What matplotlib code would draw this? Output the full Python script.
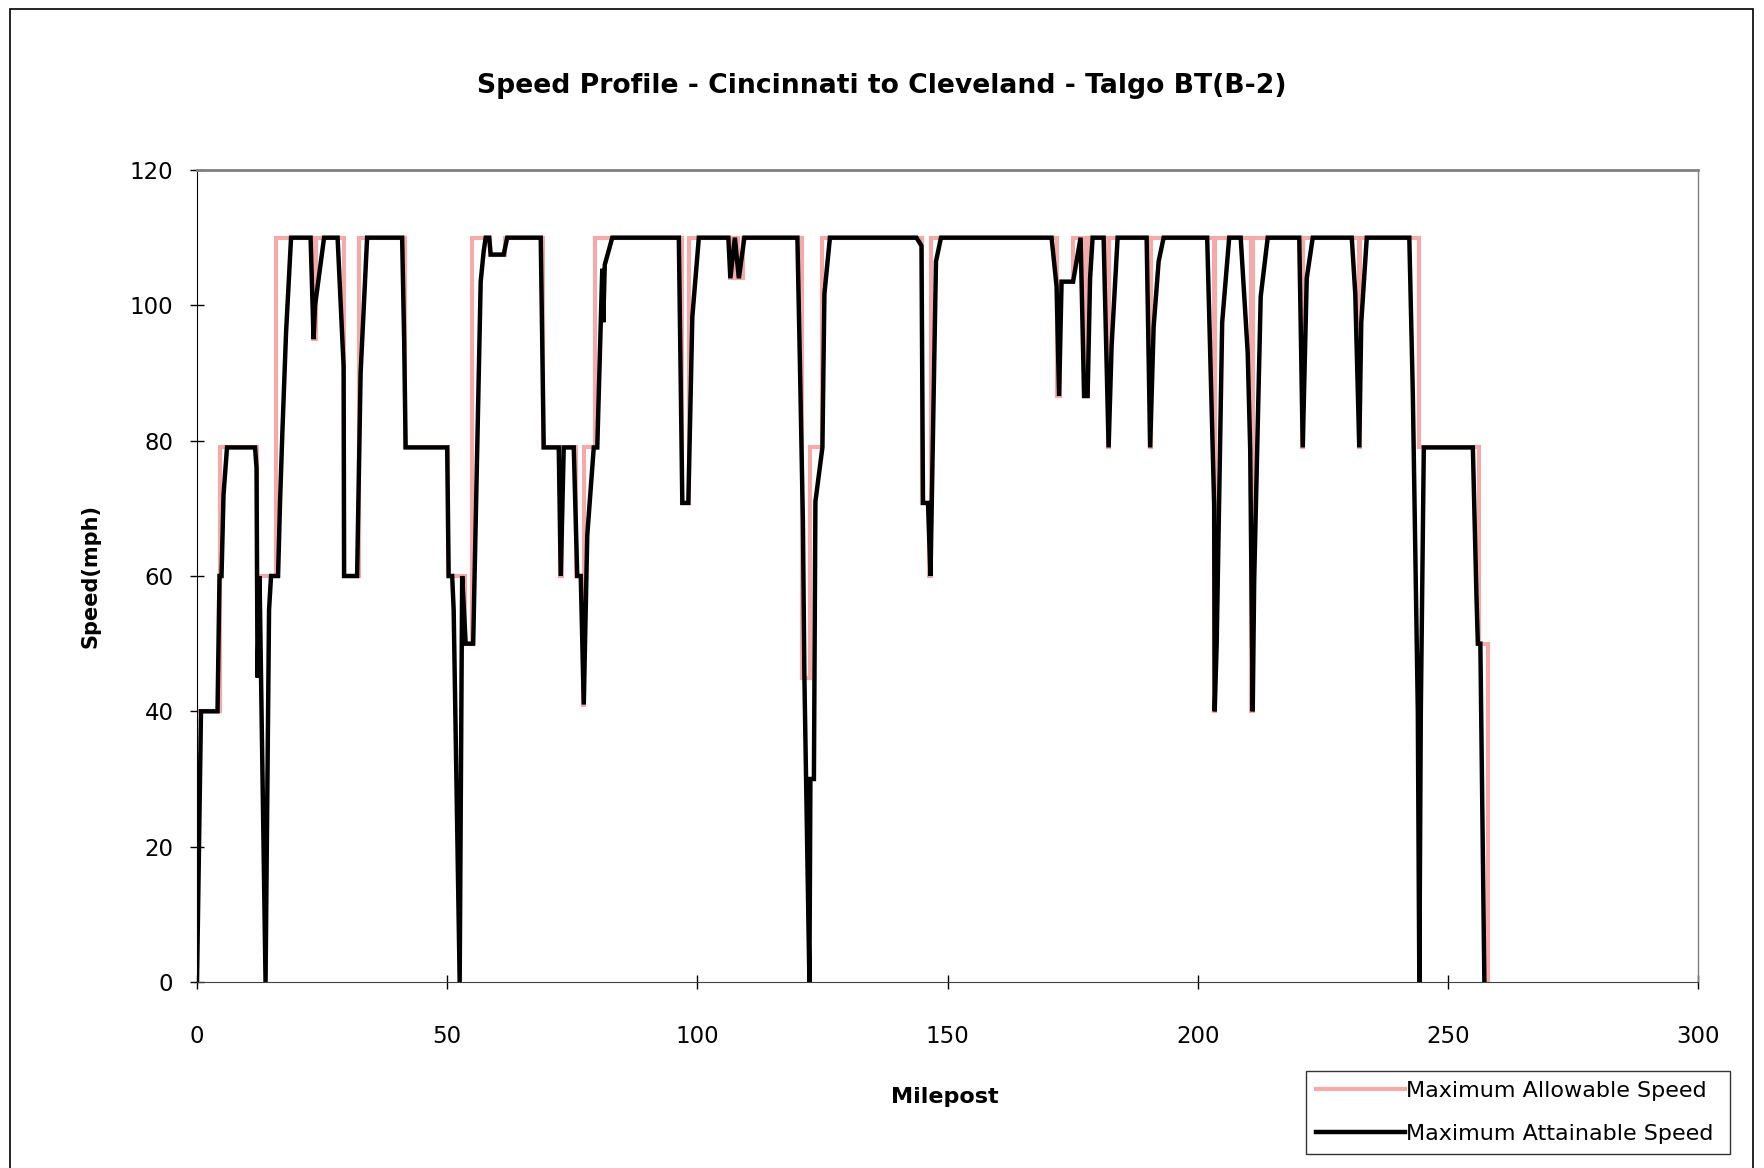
import matplotlib
matplotlib.use("Agg")
import matplotlib.pyplot as plt
from matplotlib.patches import Rectangle

# Maximum Attainable Speed (milepost, mph)
attain_mile = [0.0, 0.8, 4.1, 4.5, 4.9, 5.3, 6.0, 11.6, 11.9, 12.1, 12.5, 13.7, 14.4, 14.8,
               16.2, 16.6, 17.1, 17.8, 18.8, 22.7, 23.3, 23.6, 25.4, 28.1, 29.3, 29.4,
               32.0, 32.7, 34.0, 41.0, 41.4, 41.7, 50.0, 50.3, 51.0, 51.3, 52.5, 53.0,
               53.7, 55.2, 56.7, 57.3, 57.7, 58.4, 58.7, 61.3, 62.0, 68.7, 69.3, 72.3,
               72.7, 73.3, 75.3, 76.0, 76.7, 77.3, 78.0, 79.3, 80.0, 80.7, 81.0, 81.2,
               81.5, 83.0, 96.3, 97.0, 98.2, 99.0, 100.3, 106.2, 106.6, 107.5, 108.3,
               109.4, 120.0, 120.5, 121.1, 121.4, 122.4, 122.6, 123.3, 123.6, 125.0,
               125.4, 126.5, 143.8, 144.8, 145.1, 146.1, 146.6, 147.7, 148.7, 170.8,
               171.8, 172.3, 172.8, 175.1, 176.6, 177.3, 178.0, 178.5, 179.0, 181.2,
               182.2, 182.8, 184.0, 189.8, 190.5, 191.2, 192.2, 193.2, 201.9, 203.3,
               203.4, 203.8, 204.9, 206.3, 208.6, 210.0, 210.5, 211.0, 211.3, 212.6,
               214.0, 220.3, 221.0, 221.8, 223.0, 230.8, 231.5, 232.3, 232.7, 233.8,
               242.3, 243.0, 244.0, 244.3, 244.6, 245.2, 255.0, 255.7, 256.0, 256.5,
               257.3]
attain_mph = [0, 40, 40, 60, 60, 72, 79, 79, 76, 45, 60, 0, 55, 60,
              60, 71, 82, 96, 110, 110, 95, 100, 110, 110, 91, 60,
              60, 90, 110, 110, 95, 79, 79, 60, 60, 55, 0, 60,
              50, 50, 103.5, 108, 110, 110, 107.5, 107.5, 110, 110, 79, 79,
              60, 79, 79, 60, 60, 41, 66, 79, 79, 97.5, 105.4, 97.5,
              106, 110, 110, 70.8, 70.8, 98.3, 110, 110, 104, 110, 104,
              110, 110, 91.5, 68, 45, 0, 30, 30, 71, 79,
              101.7, 110, 110, 108.8, 70.8, 70.8, 60, 106.5, 110, 110,
              102.8, 86.6, 103.5, 103.5, 110, 86.6, 86.6, 104, 110, 110,
              79, 94, 110, 110, 79, 96.8, 106.5, 110, 110, 70.4,
              40, 50, 97.5, 110, 110, 93, 78.7, 40, 59.5, 101.3,
              110, 110, 79, 104, 110, 110, 101.7, 79, 97.5, 110,
              110, 87, 40, 0, 40, 79, 79, 57.6, 50, 50,
              0]

# Maximum Allowable Speed (milepost, mph) - step changes
allow_mile = [0.0, 4.6, 4.6, 12.0, 12.0, 15.8, 15.8, 23.2, 23.2, 23.7, 23.7, 29.4, 29.4,
              32.4, 32.4, 41.6, 41.6, 50.2, 50.2, 53.5, 53.5, 54.9, 54.9, 58.5, 58.5,
              61.5, 61.5, 69.2, 69.2, 72.5, 72.5, 73.0, 73.0, 75.8, 75.8, 77.2, 77.2,
              77.4, 77.4, 79.5, 79.5, 96.9, 96.9, 98.3, 98.3, 106.5, 106.5, 107.3, 107.3,
              108.1, 108.1, 109.2, 109.2, 120.9, 120.9, 122.5, 122.5, 124.9, 124.9,
              145.0, 145.0, 146.3, 146.3, 146.8, 146.8, 171.8, 171.8, 172.4, 172.4,
              175.1, 175.1, 177.3, 177.3, 178.0, 178.0, 182.0, 182.0, 182.3, 182.3,
              190.4, 190.4, 190.6, 190.6, 203.2, 203.2, 203.5, 203.5, 210.6, 210.6,
              211.1, 211.1, 220.9, 220.9, 221.1, 221.1, 232.2, 232.2, 232.4, 232.4,
              244.3, 244.3, 256.2, 256.2, 258.0, 258.0]
allow_mph = [40, 40, 79, 79, 60, 60, 110, 110, 95, 95, 110, 110, 60,
             60, 110, 110, 79, 79, 60, 60, 50, 50, 110, 110, 107.5,
             107.5, 110, 110, 79, 79, 60, 60, 79, 79, 60, 60, 41,
             41, 79, 79, 110, 110, 70.8, 70.8, 110, 110, 104, 104, 110,
             110, 104, 104, 110, 110, 45, 45, 79, 79, 110,
             110, 70.8, 70.8, 60, 60, 110, 110, 86.6, 86.6, 103.5,
             103.5, 110, 110, 86.6, 86.6, 110, 110, 79, 79, 110,
             110, 79, 79, 110, 110, 40, 40, 110, 110, 40,
             40, 110, 110, 79, 79, 110, 110, 79, 79, 110,
             110, 79, 79, 50, 50, 0]

x_ticks = [0, 50, 100, 150, 200, 250, 300]
y_ticks = [0, 20, 40, 60, 80, 100, 120]

W, H = 1764, 1168
fig = plt.figure(figsize=(W / 100, H / 100), dpi=100)
fig.patch.set_facecolor('white')

# outer chart border
fig.patches.append(Rectangle((10 / W, -0.02), (1753 - 10) / W, 1.02 - 9 / H,
                             transform=fig.transFigure, fill=False,
                             edgecolor='black', linewidth=1.2))

ax = fig.add_axes([197 / W, 1 - 982 / H, (1698 - 197) / W, (982 - 170) / H])

ax.plot(allow_mile, allow_mph, color='#f5aaaa', linewidth=3.0,
        solid_joinstyle='miter', label='Maximum Allowable Speed')
ax.plot(attain_mile, attain_mph, color='black', linewidth=3.2,
        solid_joinstyle='miter', label='Maximum Attainable Speed')

ax.set_xlim(0, 300)
ax.set_ylim(0, 120)
ax.set_xticks(x_ticks)
ax.set_yticks(y_ticks)
ax.tick_params(axis='both', direction='inout', length=10, width=1, labelsize=16.5)
ax.tick_params(axis='y', pad=12)
ax.tick_params(axis='x', pad=26)

for side in ['top', 'right']:
    ax.spines[side].set_color('#808080')
ax.spines['top'].set_linewidth(2)
ax.spines['right'].set_linewidth(1)
ax.spines['left'].set_color('black')
ax.spines['bottom'].set_color('#404040')

fig.text(0.5, 1 - 86 / H, 'Speed Profile - Cincinnati to Cleveland - Talgo BT(B-2)',
         ha='center', va='center', fontsize=19.2, fontweight='bold')
fig.text(90 / W, 1 - 576 / H, 'Speed(mph)', rotation=90, ha='center', va='center',
         fontsize=15, fontweight='bold')
fig.text(945 / W, 1 - 1097 / H, 'Milepost', ha='center', va='center',
         fontsize=16, fontweight='bold')

leg = fig.legend(loc='lower left', bbox_to_anchor=(1306 / W, 14 / H, (1730 - 1306) / W, 0.08),
                 mode='expand', borderaxespad=0, fontsize=16, handlelength=4.0,
                 handletextpad=0.05, labelspacing=1.05, borderpad=0.45,
                 frameon=True, fancybox=False)
leg.get_frame().set_edgecolor('black')
leg.get_frame().set_linewidth(1)

plt.savefig('out.png', dpi=100)
